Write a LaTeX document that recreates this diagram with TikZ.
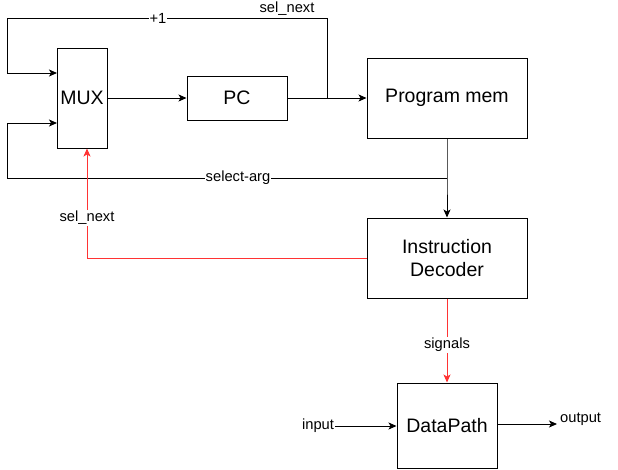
\documentclass[tikz,border=0pt]{standalone}
\usepackage{fontspec}
\setmainfont{Liberation Sans}
\usetikzlibrary{arrows.meta}
\definecolor{sigred}{RGB}{255,51,51}
\tikzset{
    block/.style={draw, line width=1pt, inner sep=0pt, align=center,
        font=\fontsize{19.5}{23}\selectfont},
    lbl/.style={fill=white, inner sep=1pt, font=\fontsize{14.7}{17}\selectfont},
    wire/.style={line width=1pt, -{Stealth[length=8pt,width=7pt,inset=2pt]}},
    redwire/.style={wire, draw=sigred}
}

\begin{document}
\begin{tikzpicture}[x=1pt, y=-1pt]
    \useasboundingbox (0,0) rectangle (618,469);
    \node[block, minimum width=50pt, minimum height=100pt] (mux) at (82,98) {MUX};
    \node[block, minimum width=100pt, minimum height=44pt] (pc) at (237,98) {PC};
    \node[block, minimum width=160pt, minimum height=80pt] (mem) at (447,98) {Program mem};
    \node[block, minimum width=160pt, minimum height=80pt] (dec) at (447,258) {Instruction\\Decoder};
    \node[block, minimum width=100pt, minimum height=85pt] (dp) at (447,425.5) {DataPath};
    \coordinate (split) at (327,98);
    \coordinate (fork) at (447,178);
    \coordinate (back) at (87,258);
    \coordinate (out) at (557,424);
    \node[lbl] (inp) at (318,426) {input};
    \node[lbl, anchor=west] (outp) at (559,419) {output};

    % fetch path
    \draw[wire] (mux.east) -- (pc.west);
    \draw[wire] (pc.east) -- (mem.west);
    \draw[wire] (split) -- (327,18) -- (7,18) -- (7,73) -- (57,73);
    \node[lbl] (inc) at (158,18) {+1};
    \node[lbl] (seltop) at (287,9) {sel\_next};

    % decode path
    \draw[wire] (mem.south) -- (fork) -- (dec.north);
    \draw[wire] (fork) -- (7,178) -- (7,123) -- (57,123);
    \node[lbl] (arg) at (238,178) {select-arg};
    \draw[redwire] (dec.west) -- (back) -- (back |- mux.south);
    \node[lbl] (selbot) at (87,218) {sel\_next};

    % data path
    \draw[redwire] (dec.south) -- (dp.north);
    \node[lbl] (sig) at (447,345) {signals};
    \draw[wire] (inp.east) -- (inp.east -| dp.west);
    \draw[wire] (dp.east |- out) -- (out);
\end{tikzpicture}
\end{document}
